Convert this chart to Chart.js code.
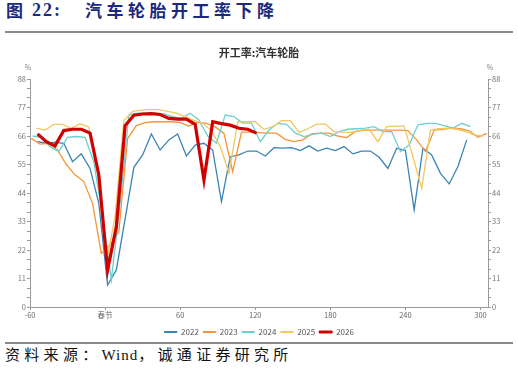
<!DOCTYPE html>
<html>
<head>
<meta charset="utf-8">
<script src="https://cdn.jsdelivr.net/npm/chart.js@4.4.1/dist/chart.umd.min.js"></script>
<style>
  body { margin: 0; width: 518px; height: 375px; background: #fff; position: relative; overflow: hidden; }
  .hd { position: absolute; top: 0; color: #1b2a7e; font-weight: bold; line-height: 20px; white-space: nowrap; }
  .rule { position: absolute; left: 5px; width: 508px; height: 2px; background: #8a8a8a; }
  #src { position: absolute; left: 5px; top: 345px; font: 15px "Noto Sans CJK SC"; color: #111; letter-spacing: 4.3px; line-height: 18px; white-space: nowrap; }
  #src .w { font-family: "Liberation Serif"; letter-spacing: 1px; }
  #box { position: absolute; left: 0; top: 36px; width: 518px; height: 310px; }
</style>
</head>
<body>
<div class="hd" style="left:6px;font-size:17px;font-family:'Noto Sans CJK SC'">图</div>
<div class="hd" style="left:32px;font-size:18px;font-family:'Liberation Serif';letter-spacing:2px">22:</div>
<div class="hd" style="left:85px;font-size:17px;font-family:'Noto Sans CJK SC';letter-spacing:4.5px">汽车轮胎开工率下降</div>
<div class="rule" style="top:31px"></div>
<div class="rule" style="top:342px"></div>
<div id="src">资料来源：<span class="w">Wind</span>，诚通证券研究所</div>
<div id="box"><canvas id="tyreChart"></canvas></div>
<script>
// weekly readings, days relative to Spring Festival (first point of each year)
const years = ['2022', '2023', '2024', '2025', '2026'];
const startDay = { '2022': -54, '2023': -59, '2024': -58, '2025': -55, '2026': -54 };

const rate2022 = [63.8, 63.2, 63.5, 63.2, 56.1, 59.1, 53.5, 40, 8.5, 14.3,
  34, 53.9, 58.7, 66.8, 60.6, 64.5, 66.8, 58.3, 62.5, 63.2,
  60.6, 40.7, 58, 58.7, 60.2, 60.2, 58.3, 61.5, 61.3, 61.5,
  60.4, 62.2, 60.2, 61.3, 60.4, 61.9, 59.1, 60.2, 60.2, 57.8,
  53.5, 61.3, 60.4, 37.5, 61.3, 58.7, 51.6, 47.5, 54.2, 64.5];
const rate2023 = [65.1, 62.9, 63.2, 60.6, 55, 51, 48.4, 40, 20.7,
  24, 29, 65, 70, 71.2, 71.5, 71.5, 71.5, 71.2,
  69.8, 71.3, 70.9, 69.5, 67, 52.2, 67.5, 67.5, 67.3,
  67.1, 67.1, 64.7, 63.8, 64.5, 66.8, 67.1, 67.1, 66,
  65.4, 67.7, 68.3, 68.3, 68.3, 68.3, 68.3, 68.1, 64.5,
  60, 68.3, 68.6, 69, 68.8, 68, 65.5, 67];
const rate2024 = [66, 65.5, 61.9, 60, 65.5, 65.8, 65.5, 56, 35,
  10.4, 40, 74.1, 74.8, 74.8, 74.8, 74.5, 73.5, 72.8,
  74.8, 72.2, 66, 63.2, 74.1, 73.5, 71, 71, 63.8,
  68.3, 70.9, 70.5, 67.1, 65.8, 66.6, 67.1, 65.8, 67.7,
  68.6, 68.8, 69, 69.6, 67.7, 67.7, 60, 62.5, 70.3,
  70.9, 70.9, 70, 69, 70.9, 69.6];
const rate2025 = [69, 68.3, 70.5, 70.5, 69, 70.7, 69.5, 52, 17,
  35, 72, 75.5, 76, 76.2, 76.2, 75.5, 74.8, 73.5,
  72, 71, 68, 62, 51.6, 71.5, 71.5, 71.5, 68.6,
  69.6, 71.9, 71.9, 67.4, 68.8, 70.6, 70.6, 67.7, 67.5,
  67.4, 68.3, 68.6, 63.8, 69.6, 69.8, 69.8, 58, 45.8,
  68.3, 68.8, 69, 68.6, 67.7, 66.4, 66];
const rate2026 = [66.8, 63.8, 62.2, 68.1, 68.6, 68.6, 67.1, 51, 14.3, 31,
  70, 74, 74.5, 74.6, 74.3, 72.8, 72.5, 72.5, 70.5, 49,
  71.5, 70.8, 70.2, 69, 68.6, 67.1];

const rates = { '2022': rate2022, '2023': rate2023, '2024': rate2024, '2025': rate2025, '2026': rate2026 };
const colors = { '2022': '#3a84b4', '2023': '#f5953a', '2024': '#6dcfcf', '2025': '#f2c862', '2026': '#d10000' };

const xTicks = [-60, 0, 60, 120, 180, 240, 300];
const xTickLabels = ['-60', '春节', '60', '120', '180', '240', '300'];
const yMajor = [0, 11, 22, 33, 44, 55, 66, 77, 88];

const font = "'Noto Sans CJK SC', 'Noto Sans', sans-serif";

function toPoints(year) {
    return rates[year].map(function(v, i) {
        return { x: startDay[year] + 7 * i, y: v };
    });
}

const datasets = years.map(function(y, k) {
    const isNew = y === '2026';
    return {
        label: y,
        data: toPoints(y),
        borderColor: colors[y],
        backgroundColor: colors[y],
        borderWidth: isNew ? 3.2 : 1.3,
        pointRadius: 0,
        tension: 0,
        order: isNew ? 0 : 5 - k
    };
});

function yTicksBuild(scale) {
    const ticks = [];
    for (let i = 0; i <= 24; i++) ticks.push({ value: i * 11 / 3 });
    scale.ticks = ticks;
}
function yTickLabel(value) {
    const r = Math.round(value);
    return (yMajor.indexOf(r) >= 0 && Math.abs(value - r) < 1e-6) ? String(r) : '';
}

const yAxisBase = {
    type: 'linear',
    min: 0,
    max: 88,
    afterBuildTicks: yTicksBuild,
    afterFit: function(scale) { scale.width = 30; },
    border: { display: true, color: '#9a9a9a', width: 1 },
    grid: { display: true, drawOnChartArea: false, drawTicks: true, tickLength: 3, color: '#9a9a9a' },
    ticks: { callback: yTickLabel, autoSkip: false, color: '#777', padding: 1, font: { family: font, size: 7.5 } }
};

// chart title and the two % marks
const decorations = {
    id: 'decorations',
    afterDraw: function(chart) {
        const c = chart.ctx;
        const a = chart.chartArea;
        c.save();
        c.fillStyle = '#333';
        c.font = 'bold 11px ' + font;
        c.textAlign = 'center';
        c.textBaseline = 'middle';
        c.fillText('开工率:汽车轮胎', 259, 17);
        c.fillStyle = '#888';
        c.font = '7px ' + font;
        c.fillText('%', a.left - 2, a.top - 12);
        c.fillText('%', a.right + 2, a.top - 12);
        c.restore();
    }
};

const ctx = document.getElementById('tyreChart').getContext('2d');
new Chart(ctx, {
    type: 'line',
    data: { datasets: datasets },
    options: {
        responsive: true,
        maintainAspectRatio: false,
        animation: false,
        layout: { padding: { top: 43, left: 0, right: 0, bottom: 0 } },
        scales: {
            x: {
                type: 'linear',
                min: -60,
                max: 306,
                afterBuildTicks: function(scale) {
                    scale.ticks = xTicks.map(function(v) { return { value: v }; });
                },
                afterFit: function(scale) { scale.height = 17; },
                border: { display: true, color: '#9a9a9a', width: 1 },
                grid: { display: true, drawOnChartArea: false, drawTicks: true, tickLength: 3, color: '#9a9a9a' },
                ticks: {
                    autoSkip: false,
                    maxRotation: 0,
                    color: '#666',
                    padding: 1,
                    font: { family: font, size: 7.5 },
                    callback: function(value) {
                        const i = xTicks.indexOf(value);
                        return i >= 0 ? xTickLabels[i] : '';
                    }
                }
            },
            y: Object.assign({ position: 'left' }, yAxisBase),
            y2: Object.assign({ position: 'right' }, yAxisBase)
        },
        plugins: {
            title: { display: false },
            tooltip: { enabled: false },
            legend: {
                position: 'bottom',
                labels: {
                    boxWidth: 13,
                    boxHeight: 2,
                    padding: 4,
                    color: '#555',
                    font: { family: font, size: 8 },
                    sort: function(a, b) { return a.datasetIndex - b.datasetIndex; },
                    generateLabels: function(chart) {
                        const items = Chart.defaults.plugins.legend.labels.generateLabels(chart);
                        items.forEach(function(it) {
                            it.lineWidth = it.text === '2026' ? 1 : 0;
                        });
                        return items;
                    }
                }
            }
        }
    },
    plugins: [decorations]
});
</script>
</body>
</html>
